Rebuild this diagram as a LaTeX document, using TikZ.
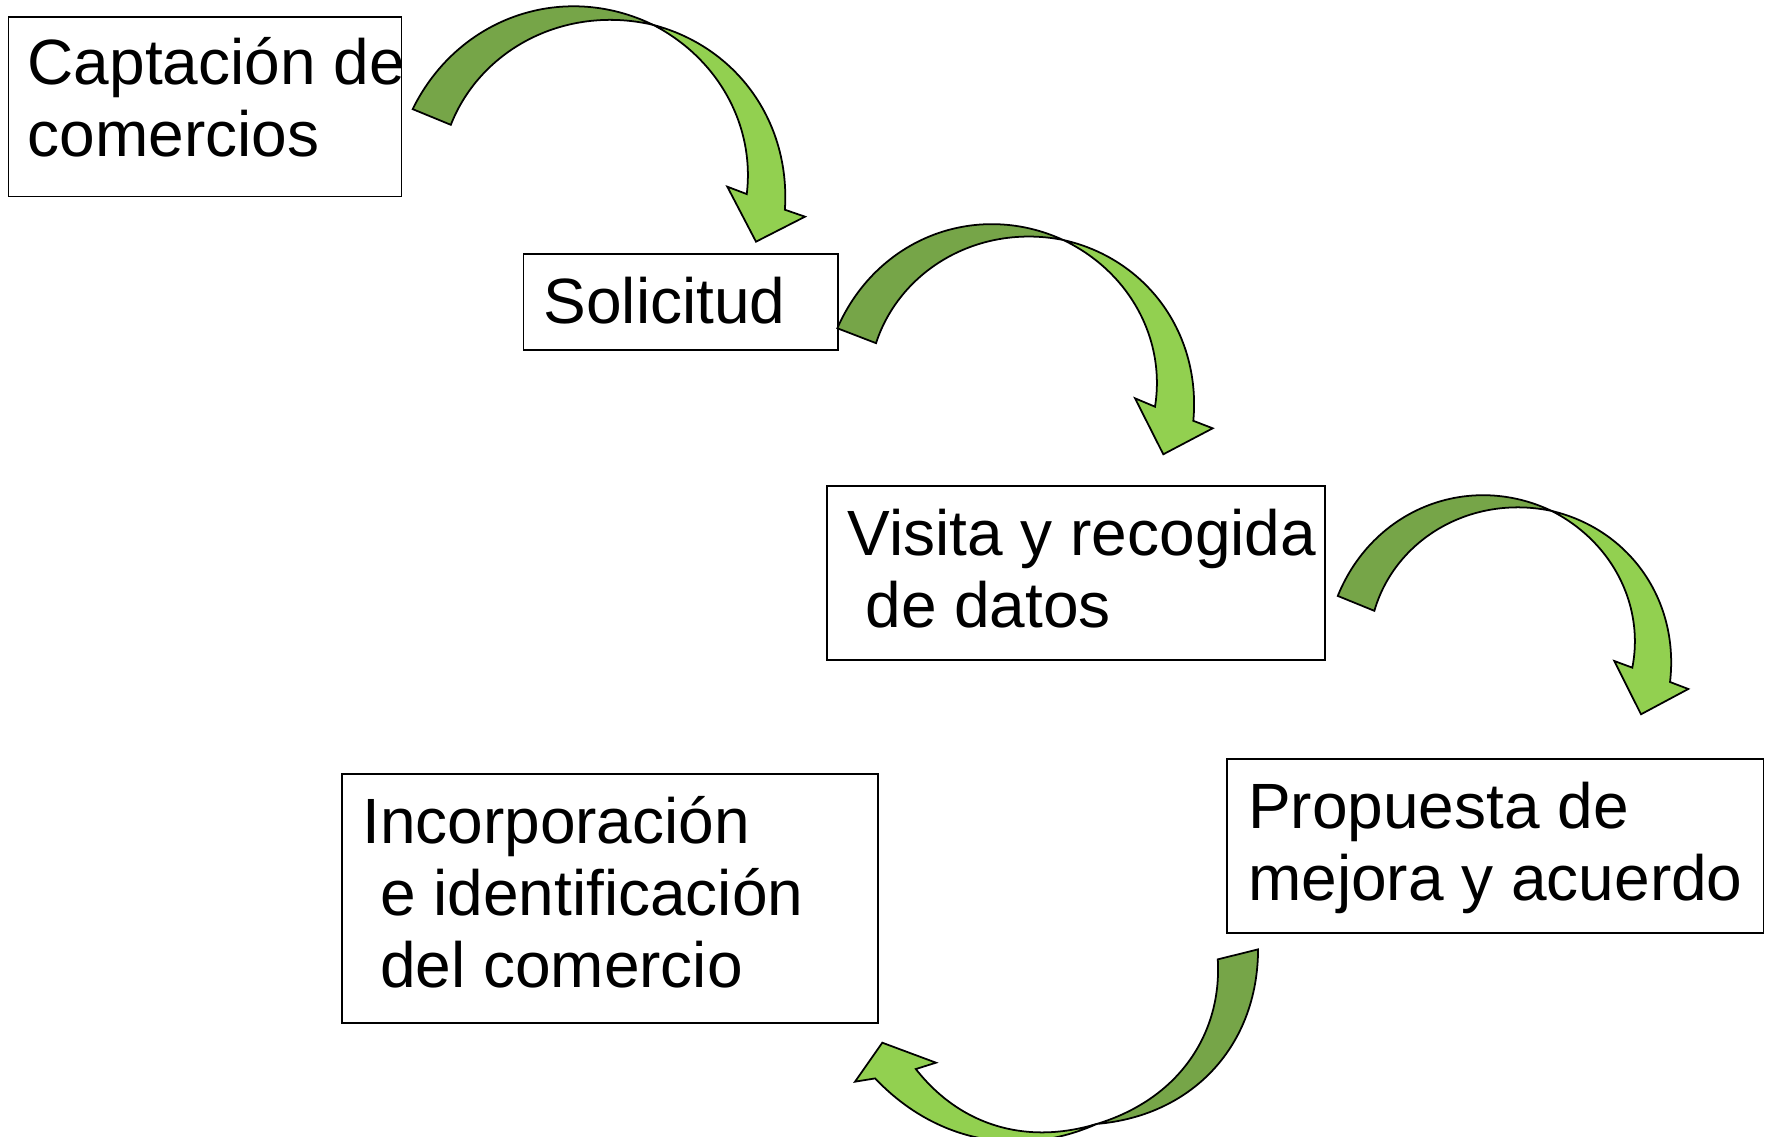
\documentclass[tikz,border=0pt]{standalone}
\usepackage{fontspec}
\setmainfont{Liberation Sans}
\definecolor{lightgreen}{HTML}{92D050}
\definecolor{darkgreen}{RGB}{118,165,72}
% ribbon edge helpers: radius (start, end, bulge) and angle (start, end) along parameter \s in [0,1]
\newcommand{\ribrad}[3]{(#1+(#2-(#1))*\s+#3*sin(180*\s))}
\newcommand{\ribang}[2]{(#1+(#2-(#1))*\s)}
\tikzset{
  box/.style={draw=black, line width=0.5pt, inner sep=0pt, fill=white},
  txt/.style={font=\fontsize{18.2}{20.5}\selectfont, align=left, inner sep=0pt, anchor=base west},
  back/.style={draw=black, line width=0.5pt, fill=darkgreen, line join=miter},
  front/.style={draw=black, line width=0.5pt, fill=lightgreen, line join=miter},
  pl/.style={domain=0:1, samples=60, variable=\s}
}
\begin{document}
\begin{tikzpicture}[x=0.01cm, y=-0.01cm]
\path[use as bounding box] (0,0) rectangle (1769,1137);
\clip (0,0) rectangle (1769,1137);
\fill[white] (0,0) rectangle (1769,1137);

% boxes
\node[box, minimum width=3.93cm,  minimum height=1.795cm] (b1) at (205,106.75) {};
\node[box, minimum width=3.147cm, minimum height=0.96cm]  (b2) at (680.85,302) {};
\node[box, minimum width=4.975cm, minimum height=1.737cm] (b3) at (1075.75,573.15) {};
\node[box, minimum width=5.359cm, minimum height=1.737cm] (b4) at (1495.45,846.15) {};
\node[box, minimum width=5.36cm,  minimum height=2.493cm] (b5) at (609.8,898.65) {};

% texts (anchored at the baseline of their last line)
\node[txt] (t1) at (27,157) {Captación de\\comercios};
\node[txt] (t2) at (543,324) {Solicitud};
\node[txt] (t3) at (847,628) {Visita y recogida\\\hspace*{.278em}de datos};
\node[txt] (t4) at (1247.5,901) {Propuesta de\\mejora y acuerdo};
\node[txt] (t5) at (361.5,988) {Incorporación\\\hspace*{.278em}e identificación\\\hspace*{.278em}del comercio};

% arrow 1
\filldraw[back]
  plot[pl] ({587+\ribrad{198}{190}{6}*cos(\ribang{151.7}{69.6})}, {203-\ribrad{198}{190}{6}*sin(\ribang{151.7}{69.6})})
  -- plot[pl] ({587+\ribrad{190}{157}{0}*cos(\ribang{69.6}{150.2})}, {203-\ribrad{190}{157}{0}*sin(\ribang{69.6}{150.2})})
  -- cycle;
\filldraw[front]
  plot[pl] ({587+\ribrad{190}{198}{5}*cos(\ribang{69.6}{-2})}, {203-\ribrad{190}{198}{5}*sin(\ribang{69.6}{-2})})
  -- (805,216.7) -- (756,241.7) -- (727.3,186.7)
  -- plot[pl] ({587+\ribrad{160}{190}{1}*cos(\ribang{3.2}{69.6})}, {203-\ribrad{160}{190}{1}*sin(\ribang{3.2}{69.6})})
  -- cycle;

% arrow 2
\filldraw[back]
  plot[pl] ({1006.4+\ribrad{187.3}{178.2}{6}*cos(\ribang{154.5}{71.4})}, {408.9-\ribrad{187.3}{178.2}{6}*sin(\ribang{154.5}{71.4})})
  -- plot[pl] ({1006.4+\ribrad{178.2}{146}{0}*cos(\ribang{71.4}{153.3})}, {408.9-\ribrad{178.2}{146}{0}*sin(\ribang{71.4}{153.3})})
  -- cycle;
\filldraw[front]
  plot[pl] ({1006.4+\ribrad{178.2}{187.3}{5}*cos(\ribang{71.4}{-3.7})}, {408.9-\ribrad{178.2}{187.3}{5}*sin(\ribang{71.4}{-3.7})})
  -- (1212.7,428.3) -- (1163.3,454.3) -- (1135,398.3)
  -- plot[pl] ({1006.4+\ribrad{148.6}{178.2}{1}*cos(\ribang{0.85}{71.4})}, {408.9-\ribrad{148.6}{178.2}{1}*sin(\ribang{0.85}{71.4})})
  -- cycle;

% arrow 3
\filldraw[back]
  plot[pl] ({1496.4+\ribrad{174.2}{166.4}{6}*cos(\ribang{155.6}{70.6})}, {667.9-\ribrad{174.2}{166.4}{6}*sin(\ribang{155.6}{70.6})})
  -- plot[pl] ({1496.4+\ribrad{166.4}{134.7}{0}*cos(\ribang{70.6}{155})}, {667.9-\ribrad{166.4}{134.7}{0}*sin(\ribang{70.6}{155})})
  -- cycle;
\filldraw[front]
  plot[pl] ({1496.4+\ribrad{166.4}{174.2}{5}*cos(\ribang{70.6}{-4.7})}, {667.9-\ribrad{166.4}{174.2}{5}*sin(\ribang{70.6}{-4.7})})
  -- (1688.3,689) -- (1641,714.3) -- (1614.3,661)
  -- plot[pl] ({1496.4+\ribrad{135.9}{166.4}{1}*cos(\ribang{0.1}{70.6})}, {667.9-\ribrad{135.9}{166.4}{1}*sin(\ribang{0.1}{70.6})})
  -- cycle;

% arrow 4
\filldraw[back]
  plot[pl] ({1037.6+\ribrad{225}{227.3}{15}*cos(\ribang{-11.5}{-74.9})}, {904.5-\ribrad{225}{227.3}{15}*sin(\ribang{-11.5}{-74.9})})
  -- plot[pl] ({1037.6+\ribrad{227.3}{188.3}{10}*cos(\ribang{-74.9}{-16.9})}, {904.5-\ribrad{227.3}{188.3}{10}*sin(\ribang{-74.9}{-16.9})})
  -- cycle;
\filldraw[front]
  plot[pl] ({1037.6+\ribrad{227.3}{238}{8}*cos(\ribang{-74.9}{-133.1})}, {904.5-\ribrad{227.3}{238}{8}*sin(\ribang{-74.9}{-133.1})})
  -- (855,1081.7) -- (882.3,1042.7) -- (936,1062.7)
  -- plot[pl] ({1037.6+\ribrad{204.7}{227.3}{9}*cos(\ribang{-126.5}{-74.9})}, {904.5-\ribrad{204.7}{227.3}{9}*sin(\ribang{-126.5}{-74.9})})
  -- cycle;
\end{tikzpicture}
\end{document}
